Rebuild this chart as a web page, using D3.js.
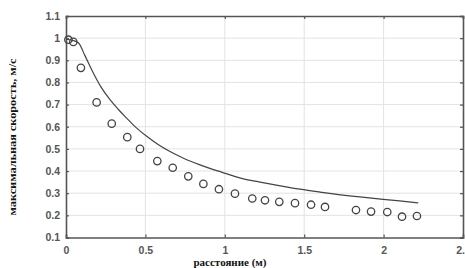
<!DOCTYPE html>
<html>
<head>
<meta charset="utf-8">
<script src="https://cdn.jsdelivr.net/npm/d3@7"></script>
<style>
  body { margin: 0; background: #fff; }
  svg { display: block; }
</style>
</head>
<body>
<svg id="chart"></svg>
<script>
// measured points (circles)
let pointX = [0.015, 0.046, 0.094, 0.193, 0.288, 0.386, 0.466, 0.575, 0.672, 0.77, 0.865, 0.963,
  1.064, 1.173, 1.253, 1.343, 1.442, 1.543, 1.631, 1.826, 1.921, 2.023, 2.116, 2.21];
let pointY = [0.993, 0.983, 0.866, 0.71, 0.614, 0.553, 0.5, 0.445, 0.415, 0.376, 0.342, 0.318,
  0.298, 0.276, 0.268, 0.261, 0.255, 0.248, 0.238, 0.224, 0.217, 0.215, 0.194, 0.197];

// model curve
let curveX = [0, 0.04, 0.078, 0.12, 0.172, 0.22, 0.277, 0.33, 0.382, 0.44, 0.504, 0.58, 0.655,
  0.74, 0.844, 0.98, 1.1, 1.222, 1.35, 1.474, 1.6, 1.683, 1.85, 1.998, 2.1, 2.218];
let curveY = [0.995, 0.99, 0.979, 0.92, 0.843, 0.78, 0.722, 0.678, 0.639, 0.597, 0.559, 0.52, 0.488,
  0.458, 0.428, 0.395, 0.368, 0.35, 0.333, 0.318, 0.305, 0.297, 0.283, 0.272, 0.265, 0.256];

let xTicks = [0, 0.5, 1, 1.5, 2, 2.5];
let yTicks = [0.1, 0.2, 0.3, 0.4, 0.5, 0.6, 0.7, 0.8, 0.9, 1, 1.1];

let width = 465;
let height = 268;
let plotLeft = 66, plotRight = 463, plotTop = 16, plotBottom = 237.5;

let svg = d3.select("#chart")
    .attr("width", width)
    .attr("height", height);

let scaleX = d3.scaleLinear().domain([0, 2.5]).range([plotLeft, plotRight]);
let scaleY = d3.scaleLinear().domain([0.1, 1.1]).range([plotBottom, plotTop]);

// grid
svg.append("g")
    .selectAll("line").data(xTicks.slice(1, -1))
    .join("line")
    .attr("x1", d => scaleX(d)).attr("x2", d => scaleX(d))
    .attr("y1", plotTop).attr("y2", plotBottom)
    .attr("stroke", "#e3e3e3").attr("stroke-width", 1);

svg.append("g")
    .selectAll("line").data(yTicks.slice(1, -1))
    .join("line")
    .attr("x1", plotLeft).attr("x2", plotRight)
    .attr("y1", d => scaleY(d)).attr("y2", d => scaleY(d))
    .attr("stroke", "#e3e3e3").attr("stroke-width", 1);

// axes (box on, ticks inward)
let tickFmt = d => d3.format("")(d);
let axisColor = "#555";

let axisB = svg.append("g")
    .attr("transform", `translate(0, ${plotBottom})`)
    .call(d3.axisBottom(scaleX).tickValues(xTicks).tickSize(-3).tickPadding(9).tickFormat(tickFmt));
let axisL = svg.append("g")
    .attr("transform", `translate(${plotLeft}, 0)`)
    .call(d3.axisLeft(scaleY).tickValues(yTicks).tickSize(-3).tickPadding(6).tickFormat(tickFmt));
let axisT = svg.append("g")
    .attr("transform", `translate(0, ${plotTop})`)
    .call(d3.axisTop(scaleX).tickValues(xTicks).tickSize(-3).tickFormat(""));
let axisR = svg.append("g")
    .attr("transform", `translate(${plotRight}, 0)`)
    .call(d3.axisRight(scaleY).tickValues(yTicks).tickSize(-3).tickFormat(""));

[axisB, axisL, axisT, axisR].forEach(a => {
    a.select(".domain").attr("stroke", axisColor).attr("stroke-width", 1.6);
    a.selectAll(".tick line").attr("stroke", axisColor).attr("stroke-width", 1.2);
    a.selectAll(".tick text")
        .attr("fill", "#555")
        .attr("font-family", "Liberation Sans, Arial, sans-serif")
        .attr("font-weight", "bold")
        .attr("font-size", "10.5px");
});

// model curve
let line = d3.line()
    .x(d => scaleX(d[0]))
    .y(d => scaleY(d[1]))
    .curve(d3.curveMonotoneX);

svg.append("path")
    .datum(d3.zip(curveX, curveY))
    .attr("d", line)
    .attr("fill", "none")
    .attr("stroke", "#444")
    .attr("stroke-width", 1.2);

// measured points
svg.append("g")
    .selectAll("circle").data(d3.zip(pointX, pointY))
    .join("circle")
    .attr("cx", d => scaleX(d[0]))
    .attr("cy", d => scaleY(d[1]))
    .attr("r", 3.7)
    .attr("fill", "none")
    .attr("stroke", "#444")
    .attr("stroke-width", 1.3);

// labels
svg.append("text")
    .attr("x", 230)
    .attr("y", 266)
    .attr("text-anchor", "middle")
    .attr("font-family", "Liberation Serif, Times New Roman, serif")
    .attr("font-weight", "bold")
    .attr("font-size", "11px")
    .attr("fill", "#111")
    .text("расстояние (м)");

svg.append("text")
    .attr("transform", `translate(16, 137) rotate(-90)`)
    .attr("text-anchor", "middle")
    .attr("font-family", "Liberation Serif, Times New Roman, serif")
    .attr("font-weight", "bold")
    .attr("font-size", "11px")
    .attr("fill", "#111")
    .attr("textLength", 157)
    .attr("lengthAdjust", "spacingAndGlyphs")
    .text("максимальная скорость, м/с");
</script>
</body>
</html>
